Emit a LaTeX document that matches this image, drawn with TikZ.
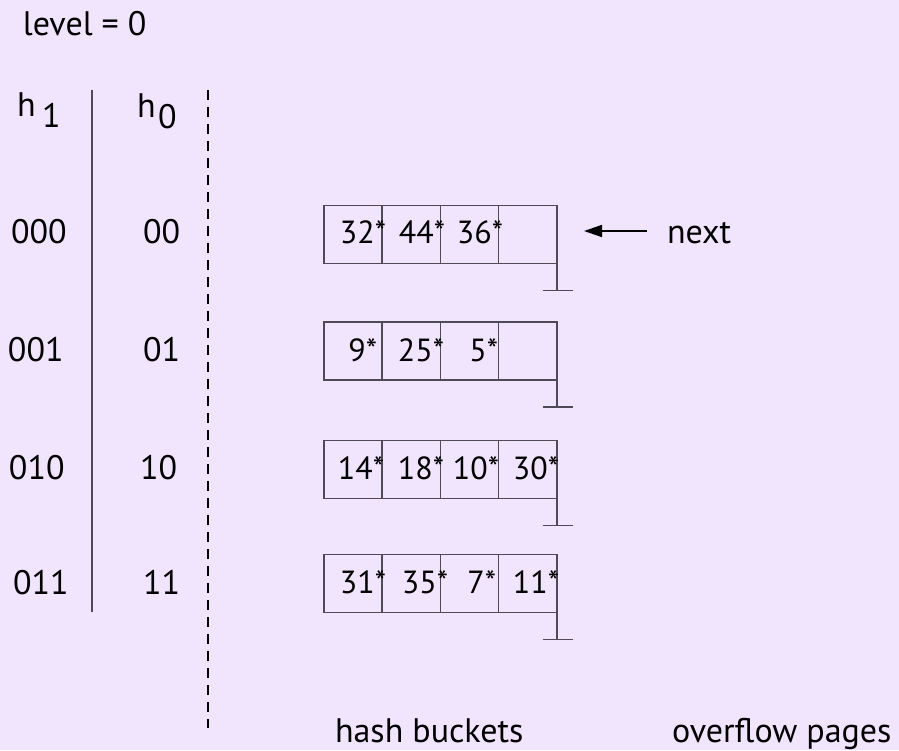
\documentclass[tikz,border=0pt]{standalone}
\usepackage{fontspec}
\setmainfont{PT Sans}
\usetikzlibrary{arrows.meta}
\definecolor{bg}{RGB}{241,228,253}
\definecolor{ln}{RGB}{78,74,88}
\begin{document}
\begin{tikzpicture}[x=1pt,y=-1pt,
  txt/.style={font=\fontsize{34}{38}\selectfont, inner sep=0pt, outer sep=0pt},
  ctxt/.style={font=\fontsize{32}{36}\selectfont, inner sep=0pt, outer sep=0pt, anchor=base east},
  cell/.style={draw=ln, line width=1.5pt, minimum width=58.2pt, minimum height=58pt, inner sep=0pt, outer sep=0pt},
  boxline/.style={draw=ln, line width=1.5pt},
  sepline/.style={draw=ln, line width=1.5pt},
  dashline/.style={draw=black, line width=2pt, dash pattern=on 10pt off 7pt}]
\fill[bg] (0,0) rectangle (899,750);
\useasboundingbox (0,0) rectangle (899,750);
% headings
\node[txt, anchor=base west] (level) at (23,35) {level = 0};
\node[txt, anchor=base west] (h1) at (17,116) {h};
\node[txt, anchor=base west] (h1s) at (42,127) {1};
\node[txt, anchor=base west] (h0) at (137,117) {h};
\node[txt, anchor=base west] (h0s) at (158,128) {0};
% separators
\coordinate (s1a) at (92,90); \coordinate (s1b) at (92,612);
\coordinate (s2a) at (208,90); \coordinate (s2b) at (208,728);
\draw[sepline] (s1a) -- (s1b);
\draw[dashline] (s2a) -- (s2b);
% left labels
\node[txt, anchor=base west] (l1a) at (11,243) {000};
\node[txt, anchor=base west] (l2a) at (8,361) {001};
\node[txt, anchor=base west] (l3a) at (9,479) {010};
\node[txt, anchor=base west] (l4a) at (13,594) {011};
\node[txt, anchor=base west] (l1b) at (143,243) {00};
\node[txt, anchor=base west] (l2b) at (143,361) {01};
\node[txt, anchor=base west] (l3b) at (140,479) {10};
\node[txt, anchor=base west] (l4b) at (143,594) {11};
% buckets
\foreach \r/\t in {1/205.3,2/322,3/440.7,4/554.7}{
  \foreach \c in {1,...,4}{
    \node[cell] (b\r c\c) at ({324+58.2*(\c-0.5)},{\t+29}) {};
  }
  \draw[boxline] (b\r c4.south east) -- ++(0,27) coordinate (t\r);
  \draw[boxline] ([xshift=-14pt]t\r) -- ([xshift=16pt]t\r);
}
% contents
\node[ctxt] (v11) at (386,243) {32*};
\node[ctxt] (v12) at (445,243) {44*};
\node[ctxt] (v13) at (503,243) {36*};
\node[ctxt] (v21) at (377,361) {9*};
\node[ctxt] (v22) at (444,361) {25*};
\node[ctxt] (v23) at (498,361) {5*};
\node[ctxt] (v31) at (384,479) {14*};
\node[ctxt] (v32) at (444,479) {18*};
\node[ctxt] (v33) at (499,479) {10*};
\node[ctxt] (v34) at (559,479) {30*};
\node[ctxt] (v41) at (386,593) {31*};
\node[ctxt] (v42) at (448,593) {35*};
\node[ctxt] (v43) at (496,593) {7*};
\node[ctxt] (v44) at (559,593) {11*};
% next pointer
\node[txt, anchor=base west] (next) at (667,243) {next};
\coordinate (as) at (647,231);
\coordinate (ae) at (584,231);
\draw[line width=1.5pt, -{Triangle[length=18pt,width=12pt]}] (as) -- (ae);
% bottom captions
\node[txt, anchor=base west] (hb) at (335,742) {hash buckets};
\node[txt, anchor=base west] (ov) at (672,742) {overflow pages};
\end{tikzpicture}
\end{document}
